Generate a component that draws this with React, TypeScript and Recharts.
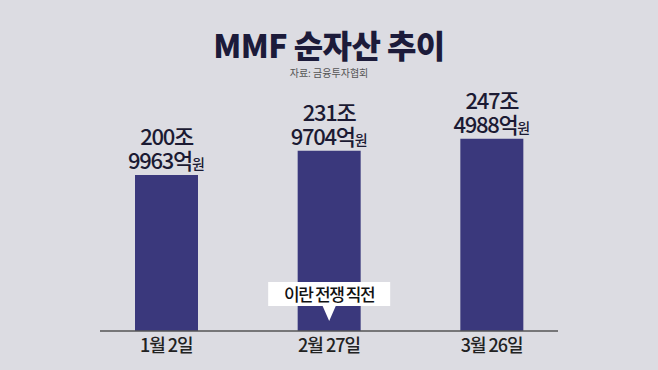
import { BarChart, Bar, XAxis, YAxis, LabelList } from "recharts";

// 날짜별 MMF 순자산 (단위: 억원)
const dates = ["1월 2일", "2월 27일", "3월 26일"];
const netAssets = [2009963, 2319704, 2474988];
const calloutIndex = 1;
const calloutText = "이란 전쟁 직전";

const data = dates.map((date, i) => ({ date, value: netAssets[i] }));

const FONT = '"Noto Sans CJK KR", "Noto Sans", sans-serif';
const BG = "#dcdce2";
const BAR = "#3a387c";
const INK = "#1b1a33";

const ValueLabel = (props: any) => {
  const { x, y, width, height, value, index } = props;
  const cx = x + width / 2;
  const jo = Math.floor(value / 10000);
  const eok = value % 10000;
  const base = y + height;
  return (
    <g>
      <text x={cx} y={y - 30} textAnchor="middle" fill={INK} fontFamily={FONT} fontSize={22} fontWeight={500} letterSpacing={-1.3}>
        <tspan x={cx}>{jo}조</tspan>
        <tspan x={cx} dy={24}>{eok}억</tspan>
        <tspan fontSize={14} letterSpacing={0}>원</tspan>
      </text>
      {index === calloutIndex && (
        <g>
          <rect x={cx - 61} y={base - 49} width={122} height={24} fill="#ffffff" />
          <polygon points={`${cx - 7},${base - 26} ${cx + 7},${base - 26} ${cx},${base - 10}`} fill="#ffffff" />
          <text x={cx} y={base - 30.5} textAnchor="middle" fill="#111" fontFamily={FONT} fontSize={17} fontWeight={500} letterSpacing={-1.4}>
            {calloutText}
          </text>
        </g>
      )}
    </g>
  );
};

const DateTick = (props: any) => {
  const { x, y, payload } = props;
  return (
    <text x={x} y={y + 13} textAnchor="middle" fill="#222" fontFamily={FONT} fontSize={18} fontWeight={500} letterSpacing={-1}>
      {payload.value}
    </text>
  );
};

export default function App() {
  return (
    <div style={{ position: "absolute", left: 0, top: 0, width: 658, height: 370, background: BG, fontFamily: FONT }}>
      <div style={{ position: "absolute", top: 24, width: 658, textAlign: "center", fontSize: 32, lineHeight: "40px", fontWeight: 900, color: "#1c1b3a", letterSpacing: -0.6 }}>
        MMF 순자산 추이
      </div>
      <div style={{ position: "absolute", top: 66, width: 658, textAlign: "center", fontSize: 10, lineHeight: "13px", color: "#555" }}>
        자료: 금융투자협회
      </div>
      <BarChart width={658} height={370} data={data} margin={{ top: 98, right: 100, bottom: 0, left: 100 }}>
        <XAxis
          dataKey="date"
          height={39}
          padding={{ left: -15, right: -15 }}
          axisLine={{ stroke: "#555", strokeWidth: 1.5 }}
          tickLine={false}
          tick={<DateTick />}
          interval={0}
        />
        <YAxis hide domain={[0, 3000000]} />
        <Bar dataKey="value" fill={BAR} barSize={63} isAnimationActive={false}>
          <LabelList dataKey="value" content={<ValueLabel />} />
        </Bar>
      </BarChart>
    </div>
  );
}
